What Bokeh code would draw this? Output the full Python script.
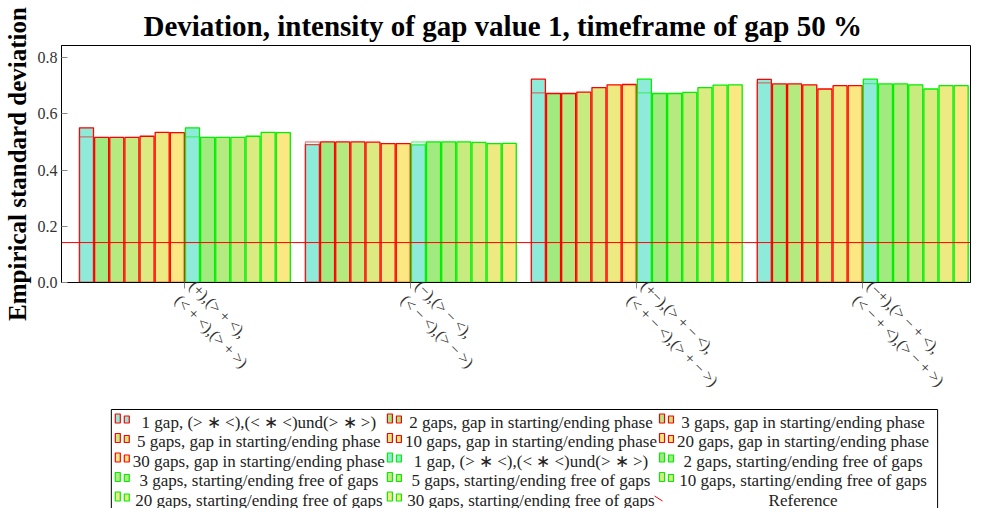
import math
from bokeh.plotting import figure
from bokeh.models import Range1d, FixedTicker, PrintfTickFormatter, Span
from bokeh.layouts import column
from bokeh.embed import file_html
from bokeh.resources import INLINE
from bokeh.core.properties import value

# ---------------- data ----------------
group_labels = [
    "(+),(> + <),\n(< + <),(> + >)",
    "(−),(> − <),\n(< − <),(> − >)",
    "(+−),(> + − <),\n(< + − <),(> + − >)",
    "(−+),(> − + <),\n(< − + <),(> − + >)",
]
series_names = [
    "1 gap, (> ∗ <),(< ∗ <)und(> ∗ >)",
    "2 gaps, gap in starting/ending phase",
    "3 gaps, gap in starting/ending phase",
    "5 gaps, gap in starting/ending phase",
    "10 gaps, gap in starting/ending phase",
    "20 gaps, gap in starting/ending phase",
    "30 gaps, gap in starting/ending phase",
    "1 gap, (> ∗ <),(< ∗ <)und(> ∗ >)",
    "2 gaps, starting/ending free of gaps",
    "3 gaps, starting/ending free of gaps",
    "5 gaps, starting/ending free of gaps",
    "10 gaps, starting/ending free of gaps",
    "20 gaps, starting/ending free of gaps",
    "30 gaps, starting/ending free of gaps",
]
reference_name = "Reference"

red_1gap = [0.550, 0.490, 0.723, 0.722]
red_1gap_alt = [0.518, 0.500, 0.674, 0.710]
red_2 = [0.516, 0.500, 0.672, 0.706]
red_3 = [0.516, 0.500, 0.672, 0.706]
red_5 = [0.516, 0.500, 0.677, 0.703]
red_10 = [0.520, 0.499, 0.693, 0.688]
red_20 = [0.534, 0.494, 0.703, 0.700]
red_30 = [0.533, 0.494, 0.704, 0.700]

green_1gap = [0.550, 0.489, 0.723, 0.723]
green_1gap_alt = [0.518, 0.500, 0.674, 0.707]
green_2 = [0.516, 0.500, 0.672, 0.706]
green_3 = [0.516, 0.500, 0.672, 0.706]
green_5 = [0.516, 0.500, 0.676, 0.703]
green_10 = [0.520, 0.498, 0.693, 0.688]
green_20 = [0.534, 0.494, 0.702, 0.700]
green_30 = [0.533, 0.495, 0.703, 0.700]

reference_value = 0.142

# ---------------- styles ----------------
fills = ["#8EEBDA", "#A1EA7F", "#B4EA80", "#C8EB80", "#DBEB81", "#ECEA80", "#FCE883"]
RED = "#FF0000"
GREEN = "#00F000"
SERIF = "Liberation Serif"

red_series = [red_1gap, red_2, red_3, red_5, red_10, red_20, red_30]
green_series = [green_1gap, green_2, green_3, green_5, green_10, green_20, green_30]
all_series = red_series + green_series
alt_series = {0: red_1gap_alt, 7: green_1gap_alt}

PX = 4      # effective horizontal page offset of the frame mapping (observed)
PY = 0      # vertical page offset (observed)
W = 972
LEFT = 58
RIGHT = 2
TOP = 45
FRAME_H = 237
BOTTOM = 126
H1 = TOP + FRAME_H + BOTTOM
H2 = 100
frame_w = W - LEFT - RIGHT
frame_left_page = PX + LEFT
frame_right_page = PX + W - RIGHT
px_per_group = 226.7
x_start = -(185.8 - frame_left_page) / px_per_group
x_end = x_start + frame_w / px_per_group
y_end = FRAME_H / 281.25

p = figure(width=W, height=H1, output_backend="svg", toolbar_location=None,
           x_range=Range1d(x_start, x_end), y_range=Range1d(0, y_end),
           min_border_left=LEFT, min_border_right=RIGHT, min_border_top=TOP,
           min_border_bottom=BOTTOM,
           title="Deviation, intensity of gap value 1, timeframe of gap 50 %")
p.title.text_font = SERIF
p.title.text_font_size = "29px"
p.title.text_font_style = "bold"
p.title.text_color = "black"
p.title.align = "left"
p.title.offset = 148 - (8 + LEFT)
p.title.standoff = 8
p.xgrid.visible = False
p.ygrid.visible = False
p.outline_line_color = "black"
p.outline_line_width = 1
p.background_fill_color = "white"
p.border_fill_color = "white"

step = 0.067
bar_w = 0.062
n = len(all_series)
xs_base = list(range(len(group_labels)))
for i, vals in enumerate(all_series):
    off = (i - (n - 1) / 2) * step
    xs = [g + off for g in xs_base]
    edge = RED if i < 7 else GREEN
    p.vbar(x=xs, top=vals, bottom=0, width=bar_w, fill_color=fills[i % 7],
           line_color=edge, line_width=1.3)
    if i in alt_series:
        p.vbar(x=xs, top=alt_series[i], bottom=0, width=bar_w,
               fill_color=fills[i % 7], fill_alpha=0.3,
               line_color=edge, line_alpha=0.5, line_width=1.3)

p.add_layout(Span(location=reference_value, dimension="width",
                  line_color=RED, line_width=1))

# axes
xa = p.xaxis[0]
xa.ticker = FixedTicker(ticks=xs_base)
xa.major_label_overrides = {i: lab for i, lab in enumerate(group_labels)}
xa.major_label_orientation = -math.pi / 4
xa.major_label_text_font = SERIF
xa.major_label_text_font_size = "16px"
xa.major_label_text_color = "#333333"
xa.major_tick_out = 6
xa.major_tick_in = 0
xa.major_tick_line_color = "#888888"
xa.minor_tick_line_color = None
xa.axis_line_color = "black"
xa.major_label_standoff = 2

ya = p.yaxis[0]
ya.ticker = FixedTicker(ticks=[0, 0.2, 0.4, 0.6, 0.8])
ya.formatter = PrintfTickFormatter(format="%.1f")
ya.major_label_text_font = SERIF
ya.major_label_text_font_size = "16px"
ya.major_label_text_color = "#333333"
ya.major_tick_in = 6
ya.major_tick_out = 0
ya.major_tick_line_color = "#888888"
ya.minor_tick_line_color = None
ya.axis_line_color = "black"
ya.major_label_standoff = 4
ya.axis_label = "Empirical standard deviation"
ya.axis_label_text_font = SERIF
ya.axis_label_text_font_size = "25px"
ya.axis_label_text_font_style = "bold"
ya.axis_label_text_color = "black"
ya.axis_label_standoff = 4

# ---------------- legend (separate panel, frame aligned with plot frame) ----------------
q = figure(width=W, height=H2, output_backend="svg", toolbar_location=None,
           x_range=Range1d(frame_left_page, frame_right_page),
           y_range=Range1d(PY + H1 + H2, PY + H1),
           x_axis_type=None, y_axis_type=None,
           min_border_left=LEFT, min_border_right=RIGHT,
           min_border_top=0, min_border_bottom=0)
q.xgrid.visible = False
q.ygrid.visible = False
q.outline_line_color = None
q.background_fill_color = "white"
q.border_fill_color = "white"

box_left, box_right = 112, 941
box_top = PY + H1 + 1
q.quad(left=[box_left], right=[box_right], top=[box_top], bottom=[box_top + 120],
       fill_color=None, line_color="black", line_width=1)

ncol = 3
col_pitch = 273
icon_left0 = 116
text_center0 = 260
row0 = box_top + 12.5
row_pitch = 19.5
labels = series_names + [reference_name]
tx, ty = [], []
for k, lab in enumerate(labels):
    r, c = divmod(k, ncol)
    yc = row0 + r * row_pitch
    il = icon_left0 + c * col_pitch
    tx.append(text_center0 + c * col_pitch)
    ty.append(yc)
    if k < n:
        edge = RED if k < 7 else GREEN
        q.quad(left=[il, il + 9], right=[il + 5, il + 14],
               top=[yc - 8, yc - 6], bottom=[yc + 1, yc + 1],
               fill_color=fills[k % 7], line_color=edge, line_width=1.2)
    else:
        q.segment(x0=[il - 5], y0=[yc - 4], x1=[il + 3], y1=[yc + 1],
                  line_color=RED, line_width=1)
q.text(x=tx, y=ty, text=labels, text_align="center", text_baseline="middle",
       text_font=value(SERIF), text_font_size="17px", text_color="#222222")

layout = column(p, q)
open("out.html", "w").write(file_html(layout, INLINE))
